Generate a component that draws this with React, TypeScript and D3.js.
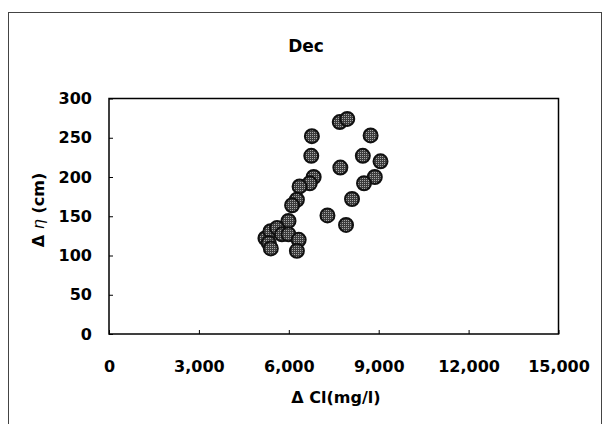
import { useRef, useEffect } from 'react';
import * as d3 from 'd3';

// ΔCl (mg/l) and Δη (cm)
const clValues = [
  6770, 6750, 6830, 6700, 6360, 6270, 6110, 5990, 5220, 5390, 5610, 5330, 5770, 5990, 6330, 6270, 5400,
  7700, 7950, 8730, 8470, 9060, 7720, 8870, 8510, 8110, 7290, 7910,
];
const etaValues = [
  252, 227, 200, 192, 188, 171, 164, 144, 122, 131, 135, 116, 127, 127, 120, 106, 109,
  270, 274, 253, 227, 220, 212, 200, 192, 172, 151, 139,
];
const xTicks = [0, 3000, 6000, 9000, 12000, 15000];
const yTicks = [0, 50, 100, 150, 200, 250, 300];

const FONT = "'DejaVu Sans', sans-serif";

export default function App() {
  const svgRef = useRef<SVGSVGElement>(null);

  useEffect(() => {
    const width = 605;
    const height = 424;
    const margin = { top: 98.5, right: 46.5, bottom: 90, left: 109 };

    const svg = d3.select(svgRef.current).attr('width', width).attr('height', height);
    svg.selectAll('*').remove();

    const x = d3.scaleLinear().domain([0, 15000]).range([margin.left, width - margin.right]);
    const y = d3.scaleLinear().domain([0, 300]).range([height - margin.bottom, margin.top]);

    // stipple fill for the markers
    const pat = svg.append('defs').append('pattern')
      .attr('id', 'dots').attr('width', 2).attr('height', 2)
      .attr('patternUnits', 'userSpaceOnUse');
    pat.append('rect').attr('width', 2).attr('height', 2).attr('fill', '#3c3c3c');
    pat.append('rect').attr('width', 1).attr('height', 1).attr('fill', '#a8a8a8');

    svg.append('rect').attr('width', width).attr('height', height).attr('fill', '#fff');

    // outer frame
    svg.append('rect')
      .attr('x', 8.5).attr('y', 12.5).attr('width', 593).attr('height', 430)
      .attr('fill', 'none').attr('stroke', '#444').attr('stroke-width', 1);

    svg.append('text')
      .attr('x', 306).attr('y', 52)
      .attr('text-anchor', 'middle')
      .style('font', `bold 17px ${FONT}`)
      .text('Dec');

    // plot box
    svg.append('rect')
      .attr('x', x(0)).attr('y', y(300))
      .attr('width', x(15000) - x(0)).attr('height', y(0) - y(300))
      .attr('fill', 'none').attr('stroke', '#000').attr('stroke-width', 1.5);

    const xAxis = svg.append('g')
      .attr('transform', `translate(0, ${y(0)})`)
      .call(d3.axisBottom(x).tickValues(xTicks).tickSizeInner(-4).tickSizeOuter(0)
        .tickPadding(27).tickFormat(d3.format(',')));
    xAxis.select('.domain').remove();
    xAxis.selectAll('text').style('font', `bold 16px ${FONT}`).attr('fill', '#000');

    const yAxis = svg.append('g')
      .attr('transform', `translate(${x(0)}, 0)`)
      .call(d3.axisLeft(y).tickValues(yTicks).tickSizeInner(-4).tickSizeOuter(0).tickPadding(17));
    yAxis.select('.domain').remove();
    yAxis.selectAll('text').style('font', `bold 16px ${FONT}`).attr('fill', '#000');

    svg.append('text')
      .attr('x', 336).attr('y', 403)
      .attr('text-anchor', 'middle')
      .style('font', `bold 16px ${FONT}`)
      .text('Δ Cl(mg/l)');

    const yt = svg.append('text')
      .attr('transform', 'translate(44, 210) rotate(-90)')
      .attr('text-anchor', 'middle')
      .style('font', `bold 16px ${FONT}`);
    yt.append('tspan').text('Δ ');
    yt.append('tspan').style('font-style', 'italic').style('font-weight', 'normal').text('η');
    yt.append('tspan').text(' (cm)');

    svg.append('g')
      .selectAll('circle')
      .data(clValues.map((c, i) => ({ c, e: etaValues[i] })))
      .enter()
      .append('circle')
      .attr('cx', d => x(d.c))
      .attr('cy', d => y(d.e))
      .attr('r', 7)
      .attr('fill', 'url(#dots)')
      .attr('stroke', '#111')
      .attr('stroke-width', 2);
  }, []);

  return <svg ref={svgRef} style={{ position: 'absolute', left: 0, top: 0 }} />;
}
